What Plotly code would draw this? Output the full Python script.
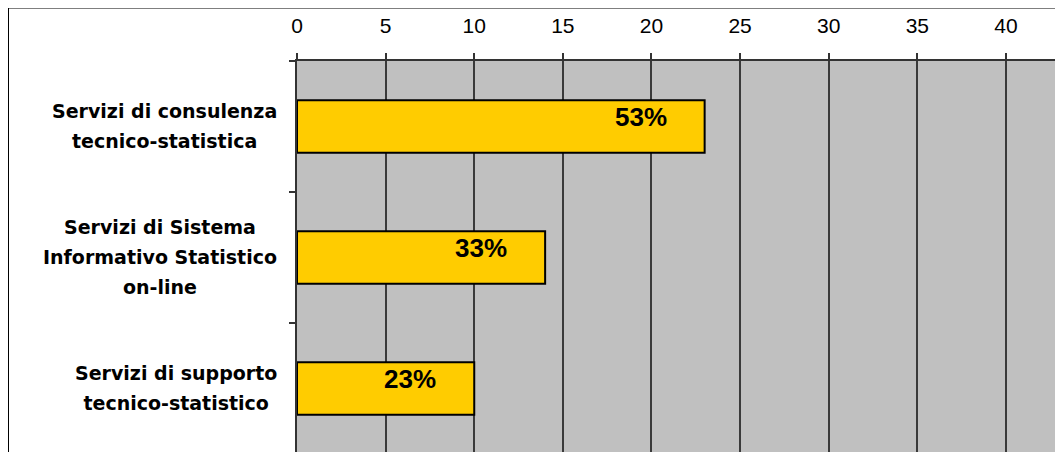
import plotly.graph_objects as go

categories = [
    "Servizi di consulenza<br>tecnico-statistica",
    "Servizi di Sistema<br>Informativo Statistico<br>on-line",
    "Servizi di supporto<br>tecnico-statistico",
]
values = [23, 14, 10]
pct_labels = ["53%", "33%", "23%"]
x_ticks = [0, 5, 10, 15, 20, 25, 30, 35, 40]

# page body has an 8px margin, so the figure is offset by 8px
OFF = 8
W, H = 1063 - OFF, 452 - OFF
L, R, T = 297 - OFF, 3, 61 - OFF
plot_w = W - L - R
plot_h = H - T

fig = go.Figure()
fig.add_trace(go.Bar(
    x=values, y=categories, orientation="h", width=0.4,
    marker=dict(color="#FFCC00", line=dict(color="#000000", width=2)),
    hoverinfo="skip", showlegend=False,
))

for cat, pct, v in zip(categories, pct_labels, values):
    fig.add_annotation(
        x=v, y=cat, xref="x", yref="y", text=pct, showarrow=False,
        xanchor="right", yanchor="middle", xshift=-36, yshift=9,
        font=dict(family="Liberation Sans", size=26, color="#000000", weight="bold"),
    )
    lines = cat.split("<br>")
    txt = "<br>".join('<span style="font-size:19px">' + ln + "</span>" for ln in lines)
    fig.add_annotation(
        x=(279 - 297) / plot_w, y=cat, xref="paper", yref="y", text=txt,
        showarrow=False, xanchor="right", yanchor="middle", align="center",
        font=dict(family="DejaVu Sans", size=23, color="#000000", weight="bold"),
    )

# outer frame (left and top)
fx = (8 - 297) / plot_w
fy = 1 + (61 - 7.5) / plot_h
fig.add_shape(type="line", xref="paper", yref="paper", x0=fx, x1=fx, y0=-0.05, y1=fy,
              line=dict(color="#000000", width=2))
fig.add_shape(type="line", xref="paper", yref="paper", x0=fx, x1=1.02, y0=fy, y1=fy,
              line=dict(color="#000000", width=2))
# right border of plot area
fig.add_shape(type="line", xref="paper", yref="paper", x0=1, x1=1, y0=0, y1=1,
              line=dict(color="#808080", width=1.5))

fig.update_layout(
    width=W, height=H,
    margin=dict(l=L, r=R, t=T, b=0, pad=0),
    paper_bgcolor="#FFFFFF", plot_bgcolor="#C0C0C0",
    bargap=0.6,
    xaxis=dict(
        side="top", range=[0, 43.05], tickmode="array", tickvals=x_ticks,
        ticks="outside", ticklen=6, tickwidth=1.5, tickcolor="#333333",
        showgrid=True, gridcolor="#3a3a3a", gridwidth=1.5, zeroline=False,
        showline=True, linecolor="#333333", linewidth=2,
        tickfont=dict(family="Liberation Sans", size=21, color="#000000"),
        ticklabelstandoff=12,
    ),
    yaxis=dict(
        type="category", categoryorder="array", categoryarray=categories,
        range=[2.485, -0.5], tickson="boundaries", ticks="outside", ticklen=6,
        tickwidth=1.5, tickcolor="#333333", showticklabels=False, showgrid=False,
        zeroline=False, showline=True, linecolor="#333333", linewidth=2,
    ),
)

fig.write_html("out.html")
